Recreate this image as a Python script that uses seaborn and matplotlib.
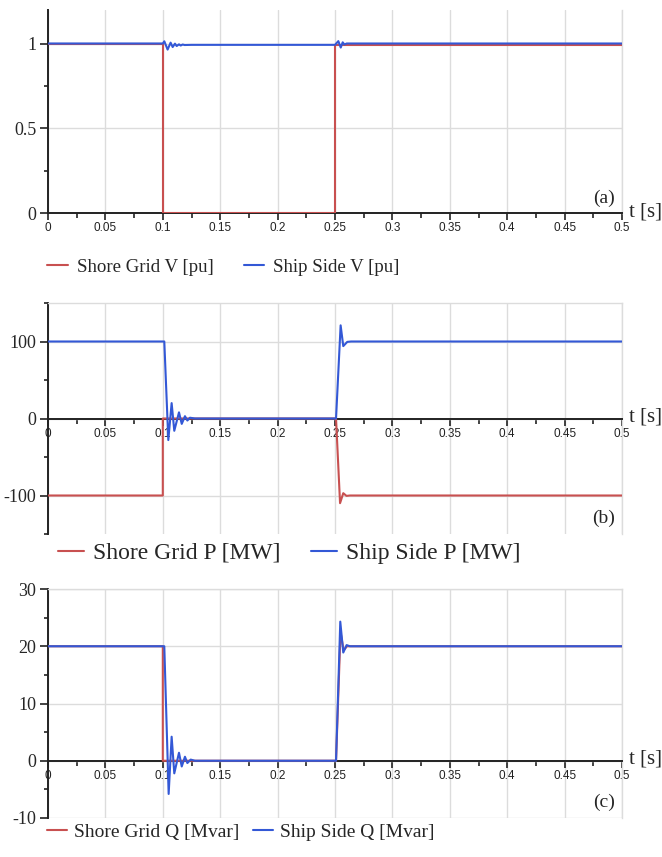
import matplotlib
matplotlib.use("Agg")
import numpy as np
import pandas as pd
import matplotlib.pyplot as plt
import seaborn as sns
from matplotlib.ticker import MultipleLocator, FuncFormatter
from matplotlib.lines import Line2D

# ---------------- data ----------------
# Panel (a): voltage [pu]
t_v_shore = [0.0, 0.1, 0.1, 0.25, 0.25, 0.5]
v_shore = [1.0, 1.0, 0.0, 0.0, 0.996, 0.996]
t_v_ship = [0.0, 0.1, 0.1013, 0.1042, 0.1068, 0.1086, 0.1106, 0.1121, 0.1141,
            0.1156, 0.1173, 0.119, 0.125, 0.25, 0.2529, 0.2550, 0.2567, 0.2582,
            0.2602, 0.5]
v_ship = [1.002, 1.002, 1.015, 0.966, 1.007, 0.981, 1.001, 0.987, 0.997,
          0.990, 0.996, 0.993, 0.994, 0.994, 1.016, 0.978, 1.009, 0.996,
          1.002, 1.002]

# Panel (b): active power [MW]
t_p_shore = [0.0, 0.1, 0.1, 0.2509, 0.2544, 0.2572, 0.2600, 0.263, 0.5]
p_shore = [-100, -100, 0, 0, -110, -97, -100.5, -100, -100]
t_p_ship = [0.0, 0.1013, 0.1048, 0.1077, 0.1100, 0.1141, 0.1165, 0.1193,
            0.1214, 0.1237, 0.128, 0.2509, 0.2549, 0.2572, 0.2607, 0.264, 0.5]
p_ship = [100, 100, -28, 20, -16, 8, -7, 3, -2.6, 1, 0, 0, 121, 94, 99.5,
          100, 100]

# Panel (c): reactive power [Mvar]
t_q_shore = [0.0, 0.1, 0.1, 0.2509, 0.2548, 0.2575, 0.2605, 0.5]
q_shore = [20, 20, 0, 0, 22.5, 19.3, 20, 20]
t_q_ship = [0.0, 0.1013, 0.1051, 0.1077, 0.1100, 0.1141, 0.1165, 0.1193,
            0.1214, 0.1243, 0.128, 0.2509, 0.2546, 0.2572, 0.2601, 0.263, 0.5]
q_ship = [20, 20, -5.8, 4.2, -2.2, 1.4, -1.0, 0.7, -0.4, 0.2, 0, 0, 24.3,
          18.9, 20.2, 20, 20]

labels_a = ["Shore Grid V [pu]", "Ship Side V [pu]"]
labels_b = ["Shore Grid P [MW]", "Ship Side P [MW]"]
labels_c = ["Shore Grid Q [Mvar]", "Ship Side Q [Mvar]"]
panel_tags = ["(a)", "(b)", "(c)"]
x_label = "t [s]"

# ---------------- style ----------------
sns.set_style("white")
plt.rcParams["font.family"] = ["Liberation Serif", "DejaVu Serif"]
plt.rcParams["axes.unicode_minus"] = False

RED = "#c85050"
BLUE = "#3358d6"
GRID = "#dcdcdc"
SPINE = "#222222"

W, H = 662, 857
fig = plt.figure(figsize=(W / 100, H / 100), dpi=100)


def rect(top_px, bottom_px, left_px=48, right_px=622):
    return [left_px / W, 1 - bottom_px / H, (right_px - left_px) / W,
            (bottom_px - top_px) / H]


fmt = FuncFormatter(lambda v, p: f"{v:g}")

panels = [
    dict(rect=rect(10, 213), shore=(t_v_shore, v_shore), ship=(t_v_ship, v_ship),
         ylim=(0, 1.2), major=0.5, minor=0.25, top=False),
    dict(rect=rect(303, 534), shore=(t_p_shore, p_shore), ship=(t_p_ship, p_ship),
         ylim=(-150, 150), major=100, minor=50, top=True),
    dict(rect=rect(589, 818), shore=(t_q_shore, q_shore), ship=(t_q_ship, q_ship),
         ylim=(-10, 30), major=10, minor=5, top=True),
]

axes = []
for i, pdef in enumerate(panels):
    ax = fig.add_axes(pdef["rect"])
    axes.append(ax)
    df = pd.concat([
        pd.DataFrame({"t": pdef["shore"][0], "val": pdef["shore"][1], "series": "shore"}),
        pd.DataFrame({"t": pdef["ship"][0], "val": pdef["ship"][1], "series": "ship"}),
    ], ignore_index=True)
    sns.lineplot(data=df, x="t", y="val", hue="series", hue_order=["shore", "ship"],
                 palette=[RED, BLUE], estimator=None, sort=False, ax=ax,
                 linewidth=1.5, legend=False, zorder=3)
    ax.set_xlim(0, 0.5)
    ax.set_ylim(*pdef["ylim"])
    ax.set_xlabel("")
    ax.set_ylabel("")
    ax.xaxis.set_major_locator(MultipleLocator(0.05))
    ax.xaxis.set_minor_locator(MultipleLocator(0.025))
    ax.yaxis.set_major_locator(MultipleLocator(pdef["major"]))
    ax.yaxis.set_minor_locator(MultipleLocator(pdef["minor"]))
    ax.xaxis.set_major_formatter(fmt)
    ax.yaxis.set_major_formatter(fmt)
    ax.grid(True, which="major", color=GRID, linewidth=1.0)
    ax.set_axisbelow(True)

    ax.spines["bottom"].set_position(("data", 0))
    ax.spines["bottom"].set_color(SPINE)
    ax.spines["bottom"].set_linewidth(1.4)
    ax.spines["left"].set_color(SPINE)
    ax.spines["left"].set_linewidth(1.4)
    ax.spines["right"].set_visible(True)
    ax.spines["right"].set_color(GRID)
    ax.spines["right"].set_linewidth(1.0)
    ax.spines["top"].set_visible(pdef["top"])
    ax.spines["top"].set_color(GRID)
    ax.spines["top"].set_linewidth(1.0)

    ax.tick_params(axis="x", which="major", direction="out", length=5, width=1.2,
                   color=SPINE, labelsize=8.5, pad=1.5, bottom=True)
    ax.tick_params(axis="x", which="minor", direction="out", length=3.5, width=1.2,
                   color=SPINE, bottom=True)
    ax.tick_params(axis="y", which="major", direction="out", length=6, width=1.2,
                   color=SPINE, labelsize=13, pad=2.5, left=True)
    ax.tick_params(axis="y", which="minor", direction="out", length=3, width=1.2,
                   color=SPINE, left=True)
    for lbl in ax.get_xticklabels():
        lbl.set_fontfamily(["Liberation Sans", "DejaVu Sans"])
        lbl.set_color("#222222")

    ax.annotate(x_label, xy=(1, 0), xycoords=("axes fraction", "data"),
                xytext=(5, 1), textcoords="offset points", ha="left", va="center",
                fontsize=15, annotation_clip=False)
    ax.text(0.988, 0.03, panel_tags[i], transform=ax.transAxes, ha="right",
            va="bottom", fontsize=14)

# ---------------- legends ----------------
def handles():
    return [Line2D([], [], color=RED, lw=1.5), Line2D([], [], color=BLUE, lw=1.5)]

fig.legend(handles(), labels_a, loc="center left", bbox_to_anchor=(47 / W, 1 - 267 / H),
           ncol=2, frameon=False, fontsize=13.6, handlelength=1.1, handletextpad=0.48,
           columnspacing=1.59, borderpad=0, borderaxespad=0)
fig.legend(handles(), labels_b, loc="center left", bbox_to_anchor=(58 / W, 1 - 553 / H),
           ncol=2, frameon=False, fontsize=17, handlelength=1.1, handletextpad=0.4,
           columnspacing=1.27, borderpad=0, borderaxespad=0)
fig.legend(handles(), labels_c, loc="center left", bbox_to_anchor=(47 / W, 1 - 832 / H),
           ncol=2, frameon=False, fontsize=14, handlelength=1.03, handletextpad=0.36,
           columnspacing=0.72, borderpad=0, borderaxespad=0)

fig.savefig("out.png", dpi=100)
